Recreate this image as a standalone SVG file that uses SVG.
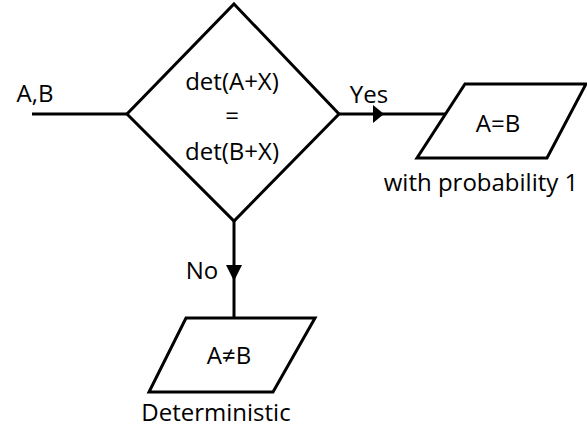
<svg xmlns="http://www.w3.org/2000/svg" width="587" height="429" viewBox="0 0 587 429">
<style>
.s{fill:#fff;stroke:#000;stroke-width:3;stroke-linejoin:miter}
.l{fill:none;stroke:#000;stroke-width:3}
.t{font-family:"Open Sans","Liberation Sans",sans-serif;font-size:24px;fill:#000;text-anchor:middle}
</style>
<rect width="587" height="429" fill="#fff"/>
<g id="connectors">
<line class="l" x1="32" y1="114" x2="127" y2="114"/>
<line class="l" x1="339" y1="114" x2="447" y2="114"/>
<polygon points="373,105 384,114 373,123" fill="#000"/>
<line class="l" x1="234" y1="221" x2="234" y2="318"/>
<polygon points="226,265 242,265 234,281" fill="#000"/>
<text class="t" x="35" y="102">A,B</text>
<text class="t" x="369" y="103">Yes</text>
<text class="t" x="202" y="279">No</text>
</g>
<g id="decision">
<polygon class="s" points="234,4 339,114 234,221 127,114"/>
<text class="t" x="232" y="90">det(A+X)</text>
<text class="t" x="232" y="124">=</text>
<text class="t" x="232" y="160">det(B+X)</text>
</g>
<g id="yes-output">
<polygon class="s" points="465,84 586,84 547,158 417,158"/>
<text class="t" x="498" y="132">A=B</text>
<text class="t" x="481" y="191">with probability 1</text>
</g>
<g id="no-output">
<polygon class="s" points="186,318 315,318 273,392 149,392"/>
<text class="t" x="229" y="364">A≠B</text>
<text class="t" x="216" y="421">Deterministic</text>
</g>
</svg>
